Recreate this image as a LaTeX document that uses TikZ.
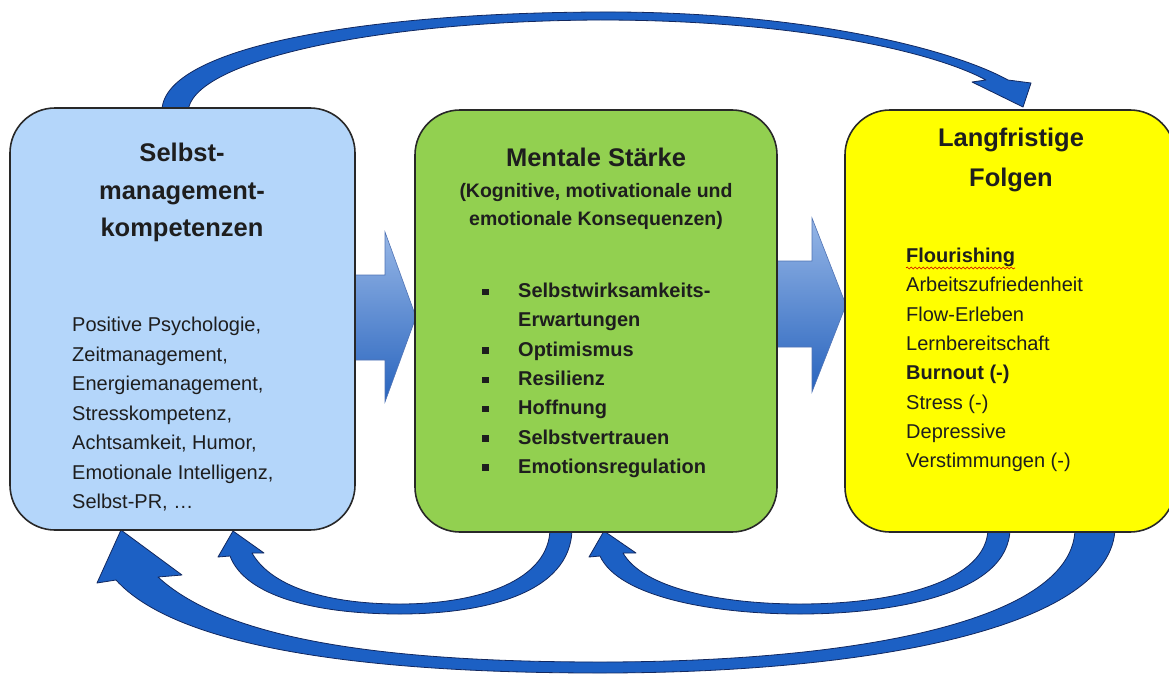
\documentclass[tikz,border=0pt]{standalone}
\usepackage{fontspec}
\setmainfont{Liberation Sans}
\usetikzlibrary{decorations.pathmorphing}
\definecolor{boxblue}{RGB}{180,214,250}
\definecolor{boxgreen}{RGB}{146,208,80}
\definecolor{boxyellow}{RGB}{255,255,0}
\definecolor{edgegray}{RGB}{40,40,40}
\definecolor{txt}{RGB}{30,30,30}
\definecolor{arrfill}{RGB}{28,96,196}
\definecolor{arredge}{RGB}{18,40,95}
\definecolor{blocktop}{RGB}{150,182,230}
\definecolor{blockbot}{RGB}{40,100,190}
\definecolor{blockedge}{RGB}{80,115,180}
\newcommand{\mybullet}{\llap{\rule[2.5pt]{6.5pt}{6.5pt}\hspace{29.5pt}}}
\begin{document}
\begin{tikzpicture}[x=1pt,y=-1pt,
  panel/.style={draw=edgegray, line width=1.6pt, rounded corners=45pt, rectangle, inner sep=0pt},
  fatarrow/.style={fill=arrfill, draw=arredge, line width=0.8pt, line join=round},
  blockarrow/.style={top color=blocktop, bottom color=blockbot, draw=blockedge, line width=0.6pt},
  title/.style={font=\fontsize{25.5}{37.5}\selectfont\bfseries, text=txt, align=center, inner sep=0pt},
  subtitle/.style={font=\fontsize{19.5}{28}\selectfont\bfseries, text=txt, align=center, inner sep=0pt},
  body/.style={font=\fontsize{20}{29.5}\selectfont, text=txt, align=left, inner sep=0pt},
  bodybold/.style={font=\fontsize{20}{29.3}\selectfont\bfseries, text=txt, align=left, inner sep=0pt},
]
\useasboundingbox (0,0) rectangle (1169,677);
\clip (0,0) rectangle (1169,677);

% block arrows
\path[blockarrow] (340,275) -- (385,275) -- (385,232) -- (416,317) -- (385,402) -- (385,360) -- (340,360) -- cycle;
\path[blockarrow] (760,261) -- (812,261) -- (812,218) -- (846,305) -- (812,392) -- (812,347) -- (760,347) -- cycle;

% top curved arrow
\path[fatarrow] (162,112) .. controls (160,50) and (350,13) .. (600,12)
  .. controls (800,11) and (950,48) .. (1008,80) -- (1031,83) -- (1023,107) -- (972,82) -- (986,80)
  .. controls (930,50) and (790,20) .. (600,20)
  .. controls (370,21) and (190,62) .. (188,112) -- cycle;

% big bottom arrow
\path[fatarrow] (1115,528) .. controls (1113,625) and (880,673) .. (600,673)
  .. controls (330,673) and (170,640) .. (116,580) -- (97,583) -- (121,530) -- (182,575) -- (158,577)
  .. controls (220,634) and (360,662) .. (600,662)
  .. controls (860,662) and (1075,620) .. (1075,528) -- cycle;

% small bottom arrow 1
\path[fatarrow] (572,528) .. controls (572,595) and (480,614) .. (400,614)
  .. controls (315,614) and (245,596) .. (230,556) -- (218,557) -- (233,531) -- (264,553) -- (252,553)
  .. controls (272,588) and (330,604) .. (400,604)
  .. controls (480,604) and (550,580) .. (550,528) -- cycle;

% small bottom arrow 2
\path[fatarrow] (1010,528) .. controls (1010,595) and (890,614) .. (800,614)
  .. controls (710,614) and (618,596) .. (600,556) -- (589,557) -- (604,531) -- (636,553) -- (623,553)
  .. controls (643,588) and (720,604) .. (800,604)
  .. controls (900,604) and (988,580) .. (988,528) -- cycle;

% boxes
\node[panel, fill=boxblue, minimum width=345pt, minimum height=422pt] (b1) at (182.5,319) {};
\node[panel, fill=boxgreen, minimum width=362pt, minimum height=422pt] (b2) at (596,321) {};
\node[panel, fill=boxyellow, minimum width=330pt, minimum height=422pt] (b3) at (1010,321) {};

% box 1 text
\node[title, anchor=north] (t1) at (182,143) {Selbst-\\management-\\kompetenzen};
\node[body, anchor=north west] (l1) at (72,317) {Positive Psychologie,\\Zeitmanagement,\\Energiemanagement,\\Stresskompetenz,\\Achtsamkeit, Humor,\\Emotionale Intelligenz,\\Selbst-PR, …};

% box 2 text
\node[title, anchor=center] (t2) at (596,157) {Mentale Stärke};
\node[subtitle, anchor=north] (s2) at (596,183) {(Kognitive, motivationale und\\emotionale Konsequenzen)};
\node[bodybold, anchor=north west] (l2) at (518,283) {\mybullet Selbstwirksamkeits-\\Erwartungen\\\mybullet Optimismus\\\mybullet Resilienz\\\mybullet Hoffnung\\\mybullet Selbstvertrauen\\\mybullet Emotionsregulation};

% box 3 text
\node[title, font=\fontsize{25.5}{40}\selectfont\bfseries, anchor=north] (t3) at (1011,128) {Langfristige\\Folgen};
\node[body, font=\fontsize{20}{29.3}\selectfont, anchor=north west] (l3) at (906,248) {\textbf{Flourishing}\\Arbeitszufriedenheit\\Flow-Erleben\\Lernbereitschaft\\\textbf{Burnout (-)}\\Stress (-)\\Depressive\\Verstimmungen (-)};
\draw[red!80!black, line width=0.6pt, decorate, decoration={snake, amplitude=1pt, segment length=4pt}] (906,268) -- (1015,268);
\end{tikzpicture}
\end{document}
